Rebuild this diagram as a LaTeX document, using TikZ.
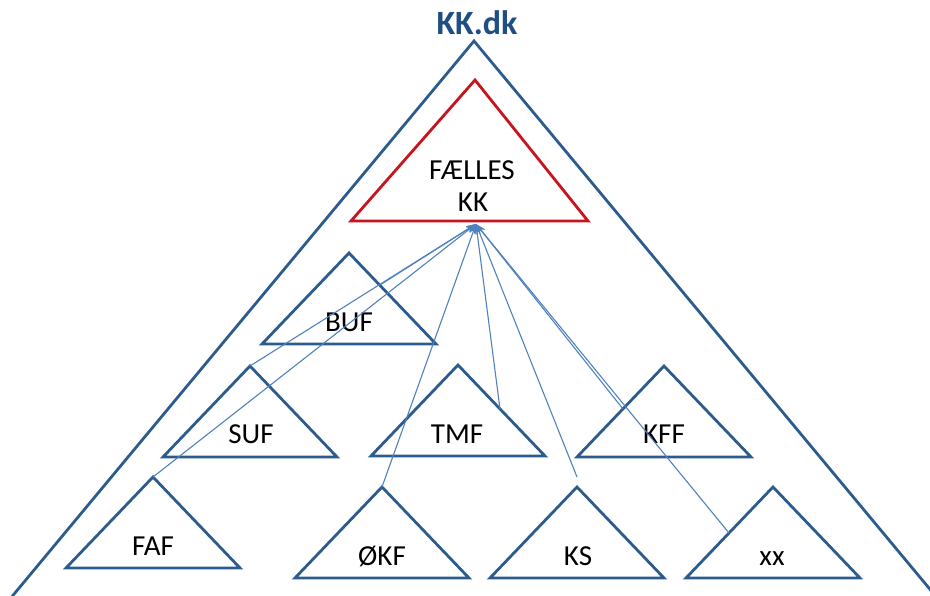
\documentclass[tikz,border=0pt]{standalone}
\usepackage{fontspec}
\setmainfont{Carlito}
\usetikzlibrary{arrows.meta}
\definecolor{triblue}{HTML}{2C5B8E}
\definecolor{titleblue}{HTML}{1F4E85}
\definecolor{arrblue}{HTML}{4F81BD}
\definecolor{kkred}{HTML}{C8141C}
\newcommand\mytri[3]{%
  \coordinate (#1) at (#2,#3);
  \draw[tribox] (#1) -- ++(-87,91) -- ++(174,0) -- cycle;}
\begin{document}
\begin{tikzpicture}[x=1pt,y=-1pt,
  tribox/.style={draw=triblue,line width=2.8pt,line join=miter},
  lbl/.style={anchor=base,font=\fontsize{29}{32}\selectfont,inner sep=0pt},
  link/.style={draw=arrblue,line width=1.1pt,-{Stealth[length=10pt,width=7pt]}}]
\useasboundingbox (0,0) rectangle (930,596);
\clip (0,0) rectangle (930,596);
% outer triangle
\coordinate (top) at (474,41);
\draw[tribox] (-10,623) -- (top) -- (958,623);
\node[anchor=base,font=\bfseries\fontsize{34}{37}\selectfont,text=titleblue,inner sep=0pt] (title) at (477,35) {KK.dk};
% red triangle
\coordinate (ftop) at (475,80);
\draw[draw=kkred,line width=2.8pt] (ftop) -- (588,221) -- (351,221) -- cycle;
\node[lbl] (fl1) at (472,180) {FÆLLES};
\node[lbl] (fl2) at (473,212) {KK};
\coordinate (tgt) at (476,224);
% small triangles
\mytri{buf}{349}{253}
\mytri{suf}{250}{366}
\mytri{tmf}{458}{365}
\mytri{kff}{664}{366}
\mytri{faf}{153}{477}
\mytri{okf}{382}{487}
\mytri{ks}{577}{487}
\mytri{xx}{773}{487}
\node[lbl] (lbuf) at (349,332) {BUF};
\node[lbl] (lsuf) at (251,443) {SUF};
\node[lbl] (ltmf) at (457,443) {TMF};
\node[lbl] (lkff) at (664,443) {KFF};
\node[lbl] (lfaf) at (153,555) {FAF};
\node[lbl] (lokf) at (382,565) {ØKF};
\node[lbl] (lks) at (578,565) {KS};
\node[lbl] (lxx) at (772,565) {xx};
% arrow sources
\coordinate (sbuf) at (380,285);
\coordinate (stmf) at (500,409);
\coordinate (sks) at (577,477);
\coordinate (skff) at (623,409);
\coordinate (sxx) at (729,533);
\draw[link] (faf) -- (tgt);
\draw[link] (suf) -- (tgt);
\draw[link] (sbuf) -- (tgt);
\draw[link] (okf) -- (tgt);
\draw[link] (stmf) -- (tgt);
\draw[link] (sks) -- (tgt);
\draw[link] (skff) -- (tgt);
\draw[link] (sxx) -- (tgt);
\end{tikzpicture}
\end{document}
